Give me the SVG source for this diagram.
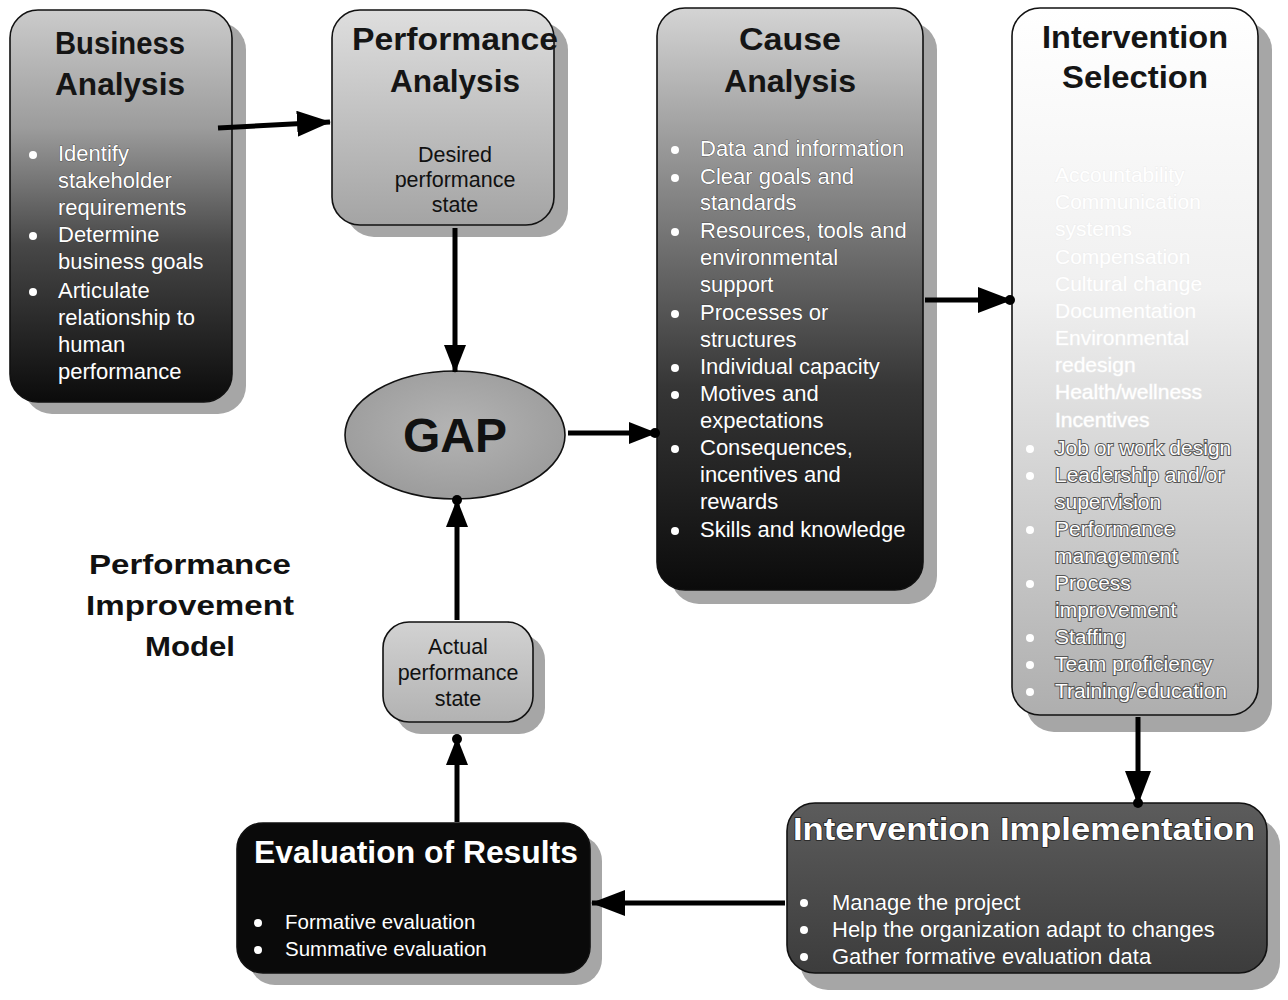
<svg xmlns="http://www.w3.org/2000/svg" width="1288" height="1000" viewBox="0 0 1288 1000">
<defs>
<linearGradient id="gBiz" x1="0" y1="0" x2="0" y2="1"><stop offset="0" stop-color="#cbcbcb"/><stop offset="0.3" stop-color="#9c9c9c"/><stop offset="0.6" stop-color="#474747"/><stop offset="1" stop-color="#0b0b0b"/></linearGradient>
<linearGradient id="gPerf" x1="0" y1="0" x2="0" y2="1"><stop offset="0" stop-color="#dedede"/><stop offset="1" stop-color="#a4a4a4"/></linearGradient>
<linearGradient id="gCause" x1="0" y1="0" x2="0" y2="1"><stop offset="0" stop-color="#d4d4d4"/><stop offset="0.3" stop-color="#8a8a8a"/><stop offset="0.65" stop-color="#363636"/><stop offset="1" stop-color="#0b0b0b"/></linearGradient>
<linearGradient id="gSel" x1="0" y1="0" x2="0" y2="1"><stop offset="0" stop-color="#ffffff"/><stop offset="0.4" stop-color="#f0f0f0"/><stop offset="1" stop-color="#aeaeae"/></linearGradient>
<linearGradient id="gImpl" x1="0" y1="0" x2="0" y2="1"><stop offset="0" stop-color="#5c5c5c"/><stop offset="1" stop-color="#3c3c3c"/></linearGradient>
<linearGradient id="gAct" x1="0" y1="0" x2="0" y2="1"><stop offset="0" stop-color="#d2d2d2"/><stop offset="1" stop-color="#b2b2b2"/></linearGradient>
<radialGradient id="gGap" cx="0.5" cy="0.45" r="0.6"><stop offset="0" stop-color="#b4b4b4"/><stop offset="1" stop-color="#9a9a9a"/></radialGradient>
<marker id="arr" viewBox="0 0 34 26" refX="33" refY="13" markerWidth="34" markerHeight="26" markerUnits="userSpaceOnUse" orient="auto"><path d="M0,0 L34,13 L0,26 z" fill="#000"/></marker>
<marker id="arrS" viewBox="0 0 28 22" refX="27" refY="11" markerWidth="28" markerHeight="22" markerUnits="userSpaceOnUse" orient="auto"><path d="M0,0 L28,11 L0,22 z" fill="#000"/></marker>
</defs>
<style>
.box{stroke:#111;stroke-width:1.6}
.shadow{fill:#a6a6a6}
.title{font-family:"Liberation Sans",Arial,sans-serif;font-weight:bold;font-size:31px;text-anchor:middle;fill:#151515}
.wtitle{font-family:"Liberation Sans",Arial,sans-serif;font-weight:bold;font-size:31px;text-anchor:middle;fill:#fff}
.bw{font-family:"Liberation Sans",Arial,sans-serif;font-size:22px;fill:#fff;stroke:#222;stroke-width:0.6;paint-order:stroke}
.bwe{font-family:"Liberation Sans",Arial,sans-serif;font-size:20.5px;fill:#fff}
.bd{font-family:"Liberation Sans",Arial,sans-serif;font-size:21.5px;fill:#111;text-anchor:middle}
.sel{font-family:"Liberation Sans",Arial,sans-serif;font-size:21px;fill:#fff;stroke:#555;stroke-width:2;paint-order:stroke}
.selt{font-family:"Liberation Sans",Arial,sans-serif;font-size:21px;fill:#fff;stroke:#eeeeee;stroke-width:1;paint-order:stroke}
.dotw{fill:#fff}
.conn{stroke:#000;stroke-width:5;fill:none}
</style>

<g id="business-analysis">
<rect class="shadow" x="24" y="22" width="222" height="392" rx="28"/>
<rect class="box" x="10" y="10" width="222" height="392" rx="28" fill="url(#gBiz)"/>
<text class="title" x="120" y="54" textLength="130" lengthAdjust="spacingAndGlyphs">Business</text>
<text class="title" x="120" y="95" textLength="130" lengthAdjust="spacingAndGlyphs">Analysis</text>
<circle class="dotw" cx="33" cy="155" r="4"/>
<circle class="dotw" cx="33" cy="236" r="4"/>
<circle class="dotw" cx="33" cy="292" r="4"/>
<text class="bw" x="58" y="161">Identify</text>
<text class="bw" x="58" y="188">stakeholder</text>
<text class="bw" x="58" y="215">requirements</text>
<text class="bw" x="58" y="242">Determine</text>
<text class="bw" x="58" y="269">business goals</text>
<text class="bw" x="58" y="298">Articulate</text>
<text class="bw" x="58" y="325">relationship to</text>
<text class="bw" x="58" y="352">human</text>
<text class="bw" x="58" y="379">performance</text>
</g>

<g id="performance-analysis">
<rect class="shadow" x="346" y="22" width="222" height="215" rx="28"/>
<rect class="box" x="332" y="10" width="222" height="215" rx="28" fill="url(#gPerf)"/>
<text class="title" x="455" y="50" textLength="206" lengthAdjust="spacingAndGlyphs">Performance</text>
<text class="title" x="455" y="92" textLength="130" lengthAdjust="spacingAndGlyphs">Analysis</text>
<text class="bd" x="455" y="162">Desired</text>
<text class="bd" x="455" y="187">performance</text>
<text class="bd" x="455" y="212">state</text>
</g>

<g id="gap">
<ellipse class="box" cx="455" cy="435" rx="110" ry="64" fill="url(#gGap)"/>
<text x="455" y="452" font-family="'Liberation Sans',Arial,sans-serif" font-weight="bold" font-size="48" text-anchor="middle" fill="#111">GAP</text>
</g>

<g id="cause-analysis">
<rect class="shadow" x="671" y="22" width="266" height="582" rx="28"/>
<rect class="box" x="657" y="8" width="266" height="582" rx="28" fill="url(#gCause)"/>
<text class="title" x="790" y="50" textLength="102" lengthAdjust="spacingAndGlyphs">Cause</text>
<text class="title" x="790" y="92" textLength="132" lengthAdjust="spacingAndGlyphs">Analysis</text>
<circle class="dotw" cx="675" cy="150" r="4"/>
<circle class="dotw" cx="675" cy="178" r="4"/>
<circle class="dotw" cx="675" cy="232" r="4"/>
<circle class="dotw" cx="675" cy="314" r="4"/>
<circle class="dotw" cx="675" cy="368" r="4"/>
<circle class="dotw" cx="675" cy="395" r="4"/>
<circle class="dotw" cx="675" cy="449" r="4"/>
<circle class="dotw" cx="675" cy="531" r="4"/>
<text class="bw" x="700" y="156">Data and information</text>
<text class="bw" x="700" y="184">Clear goals and</text>
<text class="bw" x="700" y="210">standards</text>
<text class="bw" x="700" y="238">Resources, tools and</text>
<text class="bw" x="700" y="265">environmental</text>
<text class="bw" x="700" y="292">support</text>
<text class="bw" x="700" y="320">Processes or</text>
<text class="bw" x="700" y="347">structures</text>
<text class="bw" x="700" y="374">Individual capacity</text>
<text class="bw" x="700" y="401">Motives and</text>
<text class="bw" x="700" y="428">expectations</text>
<text class="bw" x="700" y="455">Consequences,</text>
<text class="bw" x="700" y="482">incentives and</text>
<text class="bw" x="700" y="509">rewards</text>
<text class="bw" x="700" y="537">Skills and knowledge</text>
</g>

<g id="intervention-selection">
<rect class="shadow" x="1026" y="22" width="246" height="710" rx="28"/>
<rect class="box" x="1012" y="8" width="246" height="707" rx="28" fill="url(#gSel)"/>
<text class="title" x="1135" y="48" textLength="186" lengthAdjust="spacingAndGlyphs">Intervention</text>
<text class="title" x="1135" y="88" textLength="146" lengthAdjust="spacingAndGlyphs">Selection</text>
<text class="selt" x="1055" y="182">Accountability</text>
<text class="selt" x="1055" y="209">Communication</text>
<text class="selt" x="1055" y="236">systems</text>
<text class="selt" x="1055" y="264">Compensation</text>
<text class="selt" x="1055" y="291">Cultural change</text>
<text class="selt" x="1055" y="318">Documentation</text>
<text class="selt" x="1055" y="345">Environmental</text>
<text class="selt" x="1055" y="372">redesign</text>
<text class="selt" x="1055" y="399">Health/wellness</text>
<text class="selt" x="1055" y="427">Incentives</text>
<circle class="dotw" cx="1030" cy="449" r="4"/>
<circle class="dotw" cx="1030" cy="476" r="4"/>
<circle class="dotw" cx="1030" cy="530" r="4"/>
<circle class="dotw" cx="1030" cy="584" r="4"/>
<circle class="dotw" cx="1030" cy="638" r="4"/>
<circle class="dotw" cx="1030" cy="665" r="4"/>
<circle class="dotw" cx="1030" cy="692" r="4"/>
<text class="sel" x="1055" y="455">Job or work design</text>
<text class="sel" x="1055" y="482">Leadership and/or</text>
<text class="sel" x="1055" y="509">supervision</text>
<text class="sel" x="1055" y="536">Performance</text>
<text class="sel" x="1055" y="563">management</text>
<text class="sel" x="1055" y="590">Process</text>
<text class="sel" x="1055" y="617">improvement</text>
<text class="sel" x="1055" y="644">Staffing</text>
<text class="sel" x="1055" y="671">Team proficiency</text>
<text class="sel" x="1055" y="698">Training/education</text>
</g>

<g id="intervention-implementation">
<rect class="shadow" x="800" y="818" width="480" height="172" rx="28"/>
<rect class="box" x="787" y="803" width="480" height="170" rx="28" fill="url(#gImpl)"/>
<text class="wtitle" x="1024" y="840" textLength="462" lengthAdjust="spacingAndGlyphs" stroke="#222" stroke-width="1.5" paint-order="stroke">Intervention Implementation</text>
<circle class="dotw" cx="804" cy="903" r="4"/>
<circle class="dotw" cx="804" cy="930" r="4"/>
<circle class="dotw" cx="804" cy="957" r="4"/>
<text class="bw" x="832" y="910">Manage the project</text>
<text class="bw" x="832" y="937">Help the organization adapt to changes</text>
<text class="bw" x="832" y="964">Gather formative evaluation data</text>
</g>

<g id="evaluation-of-results">
<rect class="shadow" x="249" y="835" width="353" height="150" rx="26"/>
<rect class="box" x="237" y="823" width="353" height="150" rx="26" fill="#0a0a0a"/>
<text class="wtitle" x="416" y="863" textLength="324" lengthAdjust="spacingAndGlyphs">Evaluation of Results</text>
<circle class="dotw" cx="258" cy="923" r="4"/>
<circle class="dotw" cx="258" cy="950" r="4"/>
<text class="bwe" x="285" y="929">Formative evaluation</text>
<text class="bwe" x="285" y="956">Summative evaluation</text>
</g>

<g id="actual-performance-state">
<rect class="shadow" x="395" y="634" width="150" height="100" rx="26"/>
<rect class="box" x="383" y="622" width="150" height="100" rx="26" fill="url(#gAct)"/>
<text class="bd" x="458" y="654">Actual</text>
<text class="bd" x="458" y="680">performance</text>
<text class="bd" x="458" y="706">state</text>
</g>

<g id="title-label">
<text x="190" y="574" font-family="'Liberation Sans',Arial,sans-serif" font-weight="bold" font-size="28" text-anchor="middle" fill="#111" textLength="202" lengthAdjust="spacingAndGlyphs">Performance</text>
<text x="190" y="615" font-family="'Liberation Sans',Arial,sans-serif" font-weight="bold" font-size="28" text-anchor="middle" fill="#111" textLength="208" lengthAdjust="spacingAndGlyphs">Improvement</text>
<text x="190" y="656" font-family="'Liberation Sans',Arial,sans-serif" font-weight="bold" font-size="28" text-anchor="middle" fill="#111" textLength="90" lengthAdjust="spacingAndGlyphs">Model</text>
</g>

<g id="connectors">
<line class="conn" x1="218" y1="128" x2="330" y2="122" marker-end="url(#arr)"/>
<line class="conn" x1="455" y1="228" x2="455" y2="372" marker-end="url(#arrS)"/>
<line class="conn" x1="568" y1="433" x2="656" y2="433" marker-end="url(#arrS)"/>
<circle cx="655" cy="433" r="5" fill="#000"/>
<line class="conn" x1="925" y1="300" x2="1011" y2="300" marker-end="url(#arr)"/>
<circle cx="1010" cy="300" r="5" fill="#000"/>
<line class="conn" x1="1138" y1="717" x2="1138" y2="804" marker-end="url(#arr)"/>
<circle cx="1138" cy="803" r="5" fill="#000"/>
<line class="conn" x1="785" y1="903" x2="592" y2="903" marker-end="url(#arr)"/>
<line class="conn" x1="457" y1="620" x2="457" y2="500" marker-end="url(#arrS)"/>
<circle cx="457" cy="500" r="5" fill="#000"/>
<line class="conn" x1="457" y1="822" x2="457" y2="738" marker-end="url(#arrS)"/>
<circle cx="457" cy="739" r="5" fill="#000"/>
</g>
</svg>
